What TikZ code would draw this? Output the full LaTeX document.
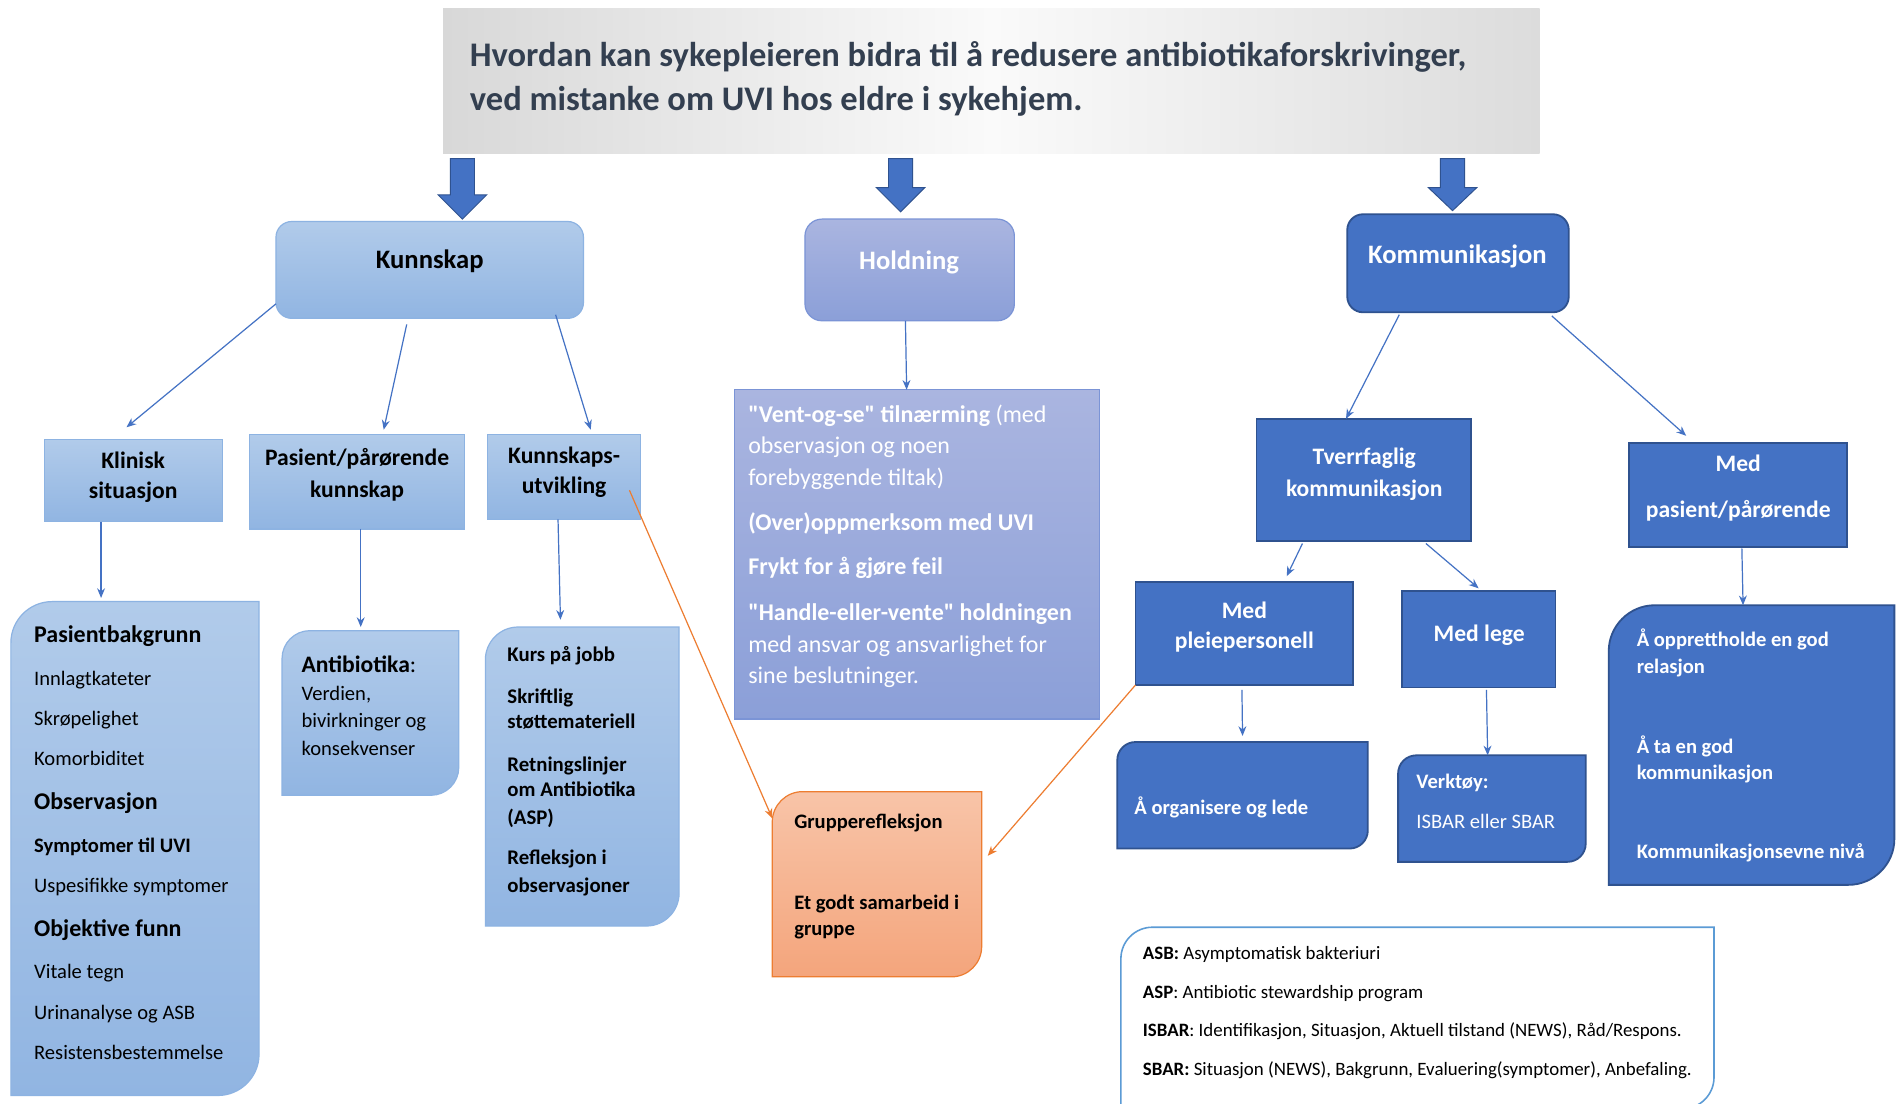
\documentclass[tikz,border=0pt]{standalone}
\usepackage{fontspec}
\setmainfont{Carlito}[Ligatures=TeXOff]
\usetikzlibrary{arrows.meta,calc}
\definecolor{dblue}{HTML}{4472C4}
\definecolor{dbd}{HTML}{2F528F}
\definecolor{lbt}{HTML}{B1CBEA}
\definecolor{lbb}{HTML}{91B5E2}
\definecolor{lbd}{HTML}{8DB3E2}
\definecolor{lavt}{HTML}{AAB5E0}
\definecolor{lavb}{HTML}{8B9FD8}
\definecolor{lavd}{HTML}{7B94D6}
\definecolor{ort}{HTML}{F8C4A8}
\definecolor{orb}{HTML}{F4A57C}
\definecolor{ord}{HTML}{ED7D31}
\definecolor{legd}{HTML}{5B9BD5}
\definecolor{titlec}{HTML}{333F50}
\definecolor{tgl}{HTML}{D8D8D8}
\definecolor{tgm}{HTML}{FAFAFA}
\definecolor{tgr}{HTML}{DCDCDC}
\newcommand\fsz[1]{\fontsize{#1pt}{#1pt}\selectfont}
\newcommand\tl[6]{\node[inner sep=0pt,anchor=base west,font={\fsz{#4}#5}] (#1) at (#2,#3+0.3*#4) {#6};}
\newcommand\tc[6]{\node[inner sep=0pt,anchor=base,font={\fsz{#4}#5}] (#1) at (#2,#3+0.3*#4) {#6};}
\newcommand\rdshape[3]{%
 \path[#3] ($(#1.north west)+(0,#2)$) .. controls ($(#1.north west)+(0,0.45*#2)$) and ($(#1.north west)+(0.45*#2,0)$) .. ($(#1.north west)+(#2,0)$) -- (#1.north east) -- ($(#1.south east)+(0,-#2)$) .. controls ($(#1.south east)+(0,-0.45*#2)$) and ($(#1.south east)+(-0.45*#2,0)$) .. ($(#1.south east)+(-#2,0)$) -- (#1.south west) -- cycle;}
\tikzset{
 boxn/.style={rectangle, inner sep=0pt, outer sep=0pt},
 lbfill/.style={top color=lbt, bottom color=lbb, draw=lbd, line width=1pt},
 lavfill/.style={top color=lavt, bottom color=lavb, draw=lavd, line width=1pt},
 dbfill/.style={fill=dblue, draw=dbd, line width=1.5pt},
 orfill/.style={top color=ort, bottom color=orb, draw=ord, line width=1pt},
 legfill/.style={fill=white, draw=legd, line width=1.3pt},
 conn/.style={draw=dblue, line width=1pt, -{Stealth[length=8pt,width=6.5pt]}},
 oconn/.style={draw=ord, line width=1pt, -{Stealth[length=8pt,width=6.5pt]}},
 barrow/.style={fill=dblue, draw=dbd, line width=0.8pt},
}
\begin{document}
\begin{tikzpicture}[x=1pt,y=-1pt]
\useasboundingbox (0,0) rectangle (1568,912);
\fill[white] (0,0) rectangle (1568,912);
% title
\node[boxn, left color=tgl, right color=tgr, middle color=tgm, minimum width=906pt, minimum height=120pt] (title) at (819,67) {};
\begin{scope}[every node/.append style={text=titlec}]
\tl{ti1}{388}{46}{28.5}{\bfseries}{Hvordan kan sykepleieren bidra til å redusere antibiotikaforskrivinger,}
\tl{ti2}{388}{83}{28.5}{\bfseries}{ved mistanke om UVI hos eldre i sykehjem.}
\end{scope}
% block arrows
\path[barrow] (372,131) -- (392,131) -- (392,161) -- (402,161) -- (382,181) -- (362,161) -- (372,161) -- cycle;
\path[barrow] (734,131) -- (754,131) -- (754,155) -- (764,155) -- (744,175) -- (724,155) -- (734,155) -- cycle;
\path[barrow] (1190,131) -- (1210,131) -- (1210,155) -- (1220,155) -- (1200,174) -- (1180,155) -- (1190,155) -- cycle;
% level 1
\node[boxn, rounded corners=13pt, lbfill, minimum width=254pt, minimum height=80pt] (kun) at (355,223) {};
\node[boxn, rounded corners=14pt, lavfill, minimum width=173pt, minimum height=84pt] (hol) at (751.5,223) {};
\node[boxn, rounded corners=13pt, dbfill, minimum width=183pt, minimum height=81pt] (kom) at (1204.5,217.5) {};
% level 2
\node[boxn, lbfill, minimum width=147pt, minimum height=68pt] (kli) at (110.5,397) {};
\node[boxn, lbfill, minimum width=178pt, minimum height=78pt] (pas) at (295,398) {};
\node[boxn, lbfill, minimum width=126pt, minimum height=70pt] (kut) at (466,394) {};
\node[boxn, lavfill, minimum width=301pt, minimum height=272pt] (hb) at (757.5,458) {};
\node[boxn, dbfill, minimum width=177pt, minimum height=101pt] (tv) at (1126.5,396.5) {};
\node[boxn, dbfill, minimum width=180pt, minimum height=86pt] (mp) at (1436,409) {};
\node[boxn, dbfill, minimum width=180pt, minimum height=85pt] (pl) at (1028,523.5) {};
\node[boxn, dbfill, minimum width=127pt, minimum height=80pt] (lg) at (1221.5,528) {};
% round diagonal boxes
\node[boxn, minimum width=205pt, minimum height=408pt] (pb) at (111.5,701) {};
\rdshape{pb}{34}{lbfill}
\node[boxn, minimum width=146pt, minimum height=136pt] (ab) at (306,589) {};
\rdshape{ab}{23}{lbfill}
\node[boxn, minimum width=160pt, minimum height=247pt] (kb) at (481,641.5) {};
\rdshape{kb}{27}{lbfill}
\node[boxn, minimum width=173pt, minimum height=153pt] (gr) at (724.5,730.5) {};
\rdshape{gr}{25}{orfill}
\node[boxn, minimum width=207pt, minimum height=88pt] (org) at (1026.5,657) {};
\rdshape{org}{15}{dbfill}
\node[boxn, minimum width=155pt, minimum height=88pt] (vk) at (1232.5,668) {};
\rdshape{vk}{15}{dbfill}
\node[boxn, minimum width=236pt, minimum height=231pt] (big) at (1447,615.5) {};
\rdshape{big}{38}{dbfill}
\node[boxn, minimum width=490pt, minimum height=150pt] (leg) at (1171,841) {};
\begin{scope}
\clip (0,0) rectangle (1568,912);
\rdshape{leg}{26}{legfill}
\end{scope}
% texts level 1 and 2
\tc{kunT}{355}{215}{22}{\bfseries}{Kunnskap}
\begin{scope}[every node/.append style={text=white}]
\tc{holT}{751}{216}{22}{\bfseries}{Holdning}
\tc{komT}{1204}{211}{22}{\bfseries}{Kommunikasjon}
\end{scope}
\tc{kli1}{110}{381}{19.5}{\bfseries}{Klinisk}
\tc{kli2}{110}{406}{19.5}{\bfseries}{situasjon}
\tc{pas1}{295}{379}{19.5}{\bfseries}{Pasient/pårørende}
\tc{pas2}{295}{405}{19.5}{\bfseries}{kunnskap}
\tc{kut1}{466}{377}{19.5}{\bfseries}{Kunnskaps-}
\tc{kut2}{466}{402}{19.5}{\bfseries}{utvikling}
% Pasientbakgrunn
\tl{pb1}{28}{525}{19.8}{\bfseries}{Pasientbakgrunn}
\tl{pb2}{28}{561}{17}{}{Innlagtkateter}
\tl{pb3}{28}{594}{17}{}{Skrøpelighet}
\tl{pb4}{28}{627}{17}{}{Komorbiditet}
\tl{pb5}{28}{663}{19.8}{\bfseries}{Observasjon}
\tl{pb6}{28}{699}{17}{\bfseries}{Symptomer til UVI}
\tl{pb7}{28}{732}{17}{}{Uspesifikke symptomer}
\tl{pb8}{28}{768}{19.8}{\bfseries}{Objektive funn}
\tl{pb9}{28}{803}{17}{}{Vitale tegn}
\tl{pb10}{28}{837}{17}{}{Urinanalyse og ASB}
\tl{pb11}{28}{870}{17}{}{Resistensbestemmelse}
% Antibiotika
\tl{ab1}{249}{550}{19.5}{\bfseries}{Antibiotika\mdseries:}
\tl{ab2}{249}{574}{17}{}{Verdien,}
\tl{ab3}{249}{596}{17}{}{bivirkninger og}
\tl{ab4}{249}{619}{17}{}{konsekvenser}
% Kunnskapsutvikling list
\tl{kb1}{419}{541}{17.2}{\bfseries}{Kurs på jobb}
\tl{kb2}{419}{576}{17.2}{\bfseries}{Skriftlig}
\tl{kb3}{419}{597}{17.2}{\bfseries}{støttemateriell}
\tl{kb4}{419}{632}{17.2}{\bfseries}{Retningslinjer}
\tl{kb5}{419}{653}{17.2}{\bfseries}{om Antibiotika}
\tl{kb6}{419}{676}{17.2}{\bfseries}{(ASP)}
\tl{kb7}{419}{709}{17.2}{\bfseries}{Refleksjon i}
\tl{kb8}{419}{732}{17.2}{\bfseries}{observasjoner}
% Holdning text
\begin{scope}[every node/.append style={text=white}]
\tl{hb1}{618}{343}{19.8}{}{\textbf{"Vent-og-se" tilnærming} (med}
\tl{hb2}{618}{369}{19.8}{}{observasjon og noen}
\tl{hb3}{618}{395}{19.8}{}{forebyggende tiltak)}
\tl{hb4}{618}{432}{19.8}{\bfseries}{(Over)oppmerksom med UVI}
\tl{hb5}{618}{469}{19.8}{\bfseries}{Frykt for å gjøre feil}
\tl{hb6}{618}{507}{19.8}{\bfseries}{"Handle-eller-vente" holdningen}
\tl{hb7}{618}{533}{19.8}{}{med ansvar og ansvarlighet for}
\tl{hb8}{618}{559}{19.8}{}{sine beslutninger.}
\end{scope}
% Gruppe
\tl{gr1}{656}{679}{17}{\bfseries}{Grupperefleksjon}
\tl{gr2}{656}{746}{17}{\bfseries}{Et godt samarbeid i}
\tl{gr3}{656}{768}{17}{\bfseries}{gruppe}
% right side
\begin{scope}[every node/.append style={text=white}]
\tc{tv1}{1127}{378}{19.5}{\bfseries}{Tverrfaglig}
\tc{tv2}{1127}{404}{19.5}{\bfseries}{kommunikasjon}
\tc{mp1}{1436}{384}{19.5}{\bfseries}{Med}
\tc{mp2}{1436}{422}{19.5}{\bfseries}{pasient/pårørende}
\tc{pl1}{1028}{505}{19.5}{\bfseries}{Med}
\tc{pl2}{1028}{530}{19.5}{\bfseries}{pleiepersonell}
\tc{lg1}{1222}{524}{19.5}{\bfseries}{Med lege}
\tl{org1}{937}{668}{17}{\bfseries}{Å organisere og lede}
\tl{vk1}{1170}{646}{17}{\bfseries}{Verktøy:}
\tl{vk2}{1170}{679}{17}{}{ISBAR eller SBAR}
\tl{big1}{1352}{529}{17}{\bfseries}{Å opprettholde en god}
\tl{big2}{1352}{551}{17}{\bfseries}{relasjon}
\tl{big3}{1352}{617}{17}{\bfseries}{Å ta en god}
\tl{big4}{1352}{639}{17}{\bfseries}{kommunikasjon}
\tl{big5}{1352}{704}{17}{\bfseries}{Kommunikasjonsevne nivå}
\end{scope}
% legend
\tl{leg1}{944}{788}{15.6}{}{\textbf{ASB:} Asymptomatisk bakteriuri}
\tl{leg2}{944}{820}{15.6}{}{\textbf{ASP}: Antibiotic stewardship program}
\tl{leg3}{944}{852}{15.6}{}{\textbf{ISBAR}: Identifikasjon, Situasjon, Aktuell tilstand (NEWS), Råd/Respons.}
\tl{leg4}{944}{884}{15.6}{}{\textbf{SBAR:} Situasjon (NEWS), Bakgrunn, Evaluering(symptomer), Anbefaling.}
% connectors
\draw[conn] ([yshift=12pt]kun.south west) -- ([xshift=-6pt,yshift=10pt]kli.north);
\draw[conn] ([xshift=-19pt,yshift=-5pt]kun.south) -- ([xshift=22pt,yshift=4pt]pas.north);
\draw[conn] ([xshift=-23pt,yshift=3pt]kun.south east) -- ([xshift=22pt,yshift=4pt]kut.north);
\draw[conn] ([xshift=-27pt]kli.south) -- ([xshift=-28pt,yshift=3pt]pb.north);
\draw[conn] ([xshift=3pt]pas.south) -- ([xshift=-8pt,yshift=3pt]ab.north);
\draw[conn] ([xshift=-5pt]kut.south) -- ([xshift=-18pt,yshift=6pt]kb.north);
\draw[oconn] ([xshift=-9pt,yshift=-11pt]kut.east) -- ([yshift=-22pt]gr.north west);
\draw[conn] ([xshift=-3.5pt]hol.south) -- ([xshift=-8.5pt]hb.north);
\draw[oconn] (pl.south west) -- ([xshift=5pt,yshift=23.5pt]gr.east);
\draw[conn] ([xshift=-48.5pt,yshift=-2pt]kom.south) -- ([xshift=-14.5pt]tv.north);
\draw[conn] ([xshift=-14pt,yshift=-3pt]kom.south east) -- ([xshift=-43pt,yshift=6pt]mp.north);
\draw[conn] ([xshift=-50.5pt,yshift=-2pt]tv.south) -- ([xshift=35pt,yshift=5pt]pl.north);
\draw[conn] ([xshift=51.5pt,yshift=-2pt]tv.south) -- ([yshift=2pt]lg.north);
\draw[conn] ([xshift=-2pt,yshift=-4pt]pl.south) -- ([yshift=5pt]org.north);
\draw[conn] ([xshift=6.5pt,yshift=-2pt]lg.south) -- ([xshift=-3.5pt]vk.north);
\draw[conn] ([xshift=3pt,yshift=-1pt]mp.south) -- ([xshift=-7pt]big.north);
\end{tikzpicture}
\end{document}
